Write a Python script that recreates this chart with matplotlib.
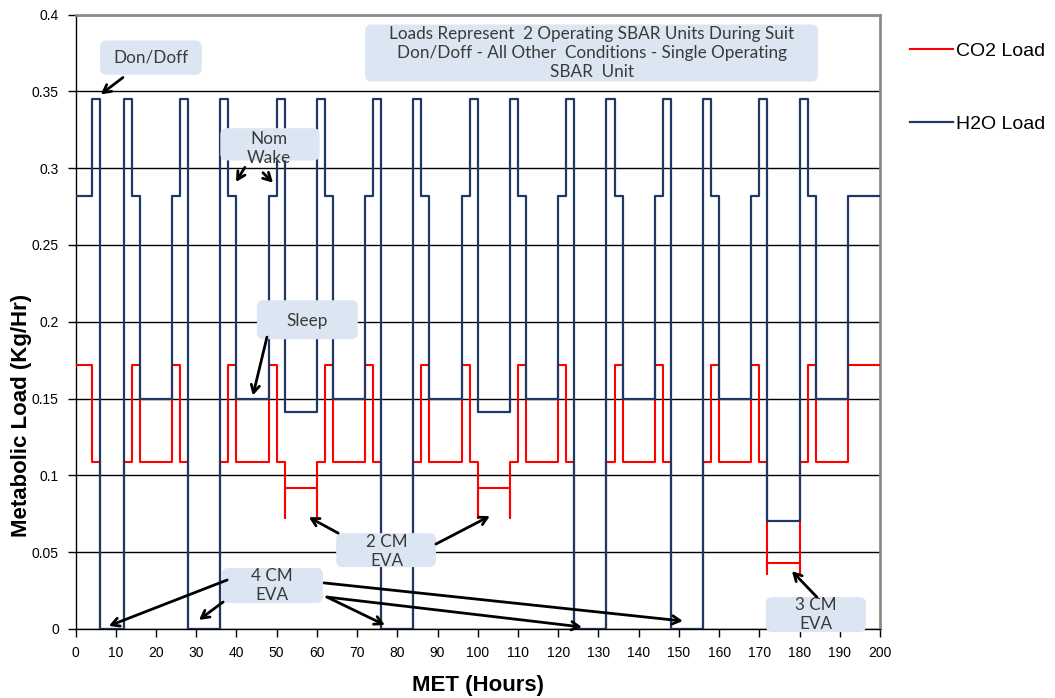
import matplotlib
matplotlib.use("Agg")
import matplotlib.pyplot as plt
from matplotlib.patches import FancyBboxPatch

# ---------------- data ----------------
# segment boundaries (MET hours)
breaks = [0, 4, 6, 12, 14, 16, 24, 26, 28, 36, 38, 40, 48, 50, 52, 60, 62, 64,
          72, 74, 76, 84, 86, 88, 96, 98, 100, 108, 110, 112, 120, 122, 124,
          132, 134, 136, 144, 146, 148, 156, 158, 160, 168, 170, 172, 180, 182,
          184, 192, 200]

# H2O load for each segment (kg/hr)
h2o_levels = [0.282, 0.345, 0.0, 0.345, 0.282, 0.150, 0.282, 0.345, 0.0, 0.345,
              0.282, 0.150, 0.282, 0.345, 0.141, 0.345, 0.282, 0.150, 0.282,
              0.345, 0.0, 0.345, 0.282, 0.150, 0.282, 0.345, 0.141, 0.345,
              0.282, 0.150, 0.282, 0.345, 0.0, 0.345, 0.282, 0.150, 0.282,
              0.345, 0.0, 0.345, 0.282, 0.150, 0.282, 0.345, 0.070, 0.345,
              0.282, 0.150, 0.282]

# CO2 load for each segment (kg/hr)
co2_levels = [0.172, 0.109, 0.0, 0.109, 0.172, 0.109, 0.172, 0.109, 0.0, 0.109,
              0.172, 0.109, 0.172, 0.109, 0.092, 0.109, 0.172, 0.109, 0.172,
              0.109, 0.0, 0.109, 0.172, 0.109, 0.172, 0.109, 0.092, 0.109,
              0.172, 0.109, 0.172, 0.109, 0.0, 0.109, 0.172, 0.109, 0.172,
              0.109, 0.0, 0.109, 0.172, 0.109, 0.172, 0.109, 0.043, 0.109,
              0.172, 0.109, 0.172]

# transient CO2 dips at the edges of CM EVA segments
co2_dip_segments = [14, 26, 44]
co2_dip_values = [0.072, 0.072, 0.036]

x_ticks = list(range(0, 201, 10))
y_ticks = [0, 0.05, 0.1, 0.15, 0.2, 0.25, 0.3, 0.35, 0.4]
y_ticklabels = ["0", "0.05", "0.1", "0.15", "0.2", "0.25", "0.3", "0.35", "0.4"]


def step_path(brk, levels, dip_idx=(), dip_vals=()):
    dips = dict(zip(dip_idx, dip_vals))
    xs, ys = [], []
    for i, lv in enumerate(levels):
        x0, x1 = brk[i], brk[i + 1]
        if i in dips:
            xs += [x0, x0, x1, x1]
            ys += [dips[i], lv, lv, dips[i]]
        else:
            xs += [x0, x1]
            ys += [lv, lv]
    return xs, ys


W, H = 1055, 698
fig = plt.figure(figsize=(W / 100, H / 100), dpi=100)
L, R, T, B = 75.5, 880, 14.5, 629
ax = fig.add_axes([L / W, 1 - B / H, (R - L) / W, (B - T) / H])

cx, cy = step_path(breaks, co2_levels, co2_dip_segments, co2_dip_values)
hx, hy = step_path(breaks, h2o_levels)
ax.plot(cx, cy, color="#FF0000", lw=1.5, zorder=3, label="CO2 Load")
ax.plot(hx, hy, color="#1F3864", lw=1.6, zorder=4, label="H2O Load")

ax.set_xlim(0, 200)
ax.set_ylim(0, 0.4)
ax.set_xticks(x_ticks)
ax.set_yticks(y_ticks)
ax.set_yticklabels(y_ticklabels)
for lab in ax.get_xticklabels() + ax.get_yticklabels():
    lab.set_fontfamily("Liberation Sans")
    lab.set_fontsize(10)
ax.tick_params(direction="out", length=6, width=1, color="black", pad=6)
ax.yaxis.grid(True, color="black", lw=1)
ax.set_axisbelow(True)
for s in ("left", "bottom"):
    ax.spines[s].set_color("black")
    ax.spines[s].set_linewidth(1)
for s in ("top", "right"):
    ax.spines[s].set_color("#8C8C8C")
    ax.spines[s].set_linewidth(2)

axw = (R - L)
axh = (B - T)
ax.set_xlabel("MET (Hours)", fontfamily="Liberation Sans", fontsize=16,
              fontweight="bold")
ax.xaxis.set_label_coords((478 - L) / axw, -(685 - B) / axh)
ax.xaxis.label.set_va("center")
ax.set_ylabel("Metabolic Load (Kg/Hr)", fontfamily="Liberation Sans",
              fontsize=16, fontweight="bold")
ax.yaxis.set_label_coords(-(L - 22) / axw, (B - 415) / axh)
ax.yaxis.label.set_va("center")

fig.legend(loc="upper left", bbox_to_anchor=(910 / W, 1 - 42 / H),
           frameon=False, prop=dict(family="Liberation Sans", size=14),
           handlelength=2.2, handletextpad=0.15, labelspacing=2.85,
           borderpad=0, borderaxespad=0)

# ---------------- annotations ----------------
aspect = (axw / 200.0) * (0.4 / axh)   # y data units per x data unit at equal px

box_fc = "#DCE6F2"
txt_c = "#3A3A3A"
afont = "Lato"


def box(x0, y0, x1, y1):
    p = FancyBboxPatch((x0, y0), x1 - x0, y1 - y0,
                       boxstyle="round,pad=0,rounding_size=1.6",
                       mutation_aspect=aspect, fc=box_fc, ec="none",
                       zorder=6, clip_on=False)
    ax.add_patch(p)


def label(x, y, s, size=12.3):
    ax.text(x, y, s, ha="center", va="center", color=txt_c, fontfamily=afont,
            fontsize=size, linespacing=1.22, zorder=7, clip_on=False)


def arrow(tail, tip):
    ax.annotate("", xy=tip, xytext=tail, zorder=8,
                arrowprops=dict(arrowstyle="->,head_length=0.55,head_width=0.3",
                                color="black", lw=2.0, shrinkA=0, shrinkB=0))


# Don/Doff
box(6.1, 0.3608, 31.4, 0.3831)
label(18.8, 0.3718, "Don/Doff")
arrow((11.8, 0.359), (6.3, 0.348))

# Nom Wake
box(36.0, 0.305, 60.7, 0.326)
label(48.1, 0.3125, "Nom\nWake")
arrow((42.1, 0.3005), (39.9, 0.291))
arrow((46.6, 0.297), (49.1, 0.2905))

# Sleep
box(45.1, 0.1886, 70.2, 0.214)
label(57.5, 0.2008, "Sleep")
arrow((47.6, 0.190), (44.1, 0.152))

# Note box
box(72.0, 0.3564, 184.6, 0.3935)
label(128.4, 0.3750, "Loads Represent  2 Operating SBAR Units During Suit\n"
      "Don/Doff - All Other  Conditions - Single Operating\nSBAR  Unit")

# 2 CM EVA
box(64.8, 0.0403, 89.6, 0.0624)
label(77.4, 0.0505, "2 CM\nEVA")
arrow((65.3, 0.0624), (58.0, 0.0728))
arrow((89.6, 0.0553), (103.0, 0.0735))

# 4 CM EVA
box(36.4, 0.0169, 61.5, 0.0397)
label(48.8, 0.0283, "4 CM\nEVA")
arrow((37.7, 0.0319), (8.3, 0.002))
arrow((36.7, 0.0176), (30.7, 0.0059))
arrow((62.5, 0.0208), (76.9, 0.0026))
arrow((61.8, 0.030), (151.0, 0.0052))
arrow((62.5, 0.0208), (125.9, 0.0013))

# 3 CM EVA
box(171.6, -0.002, 196.5, 0.0208)
label(184.1, 0.0095, "3 CM\nEVA")
arrow((184.3, 0.0208), (178.1, 0.0377))

fig.savefig("out.png", dpi=100)
